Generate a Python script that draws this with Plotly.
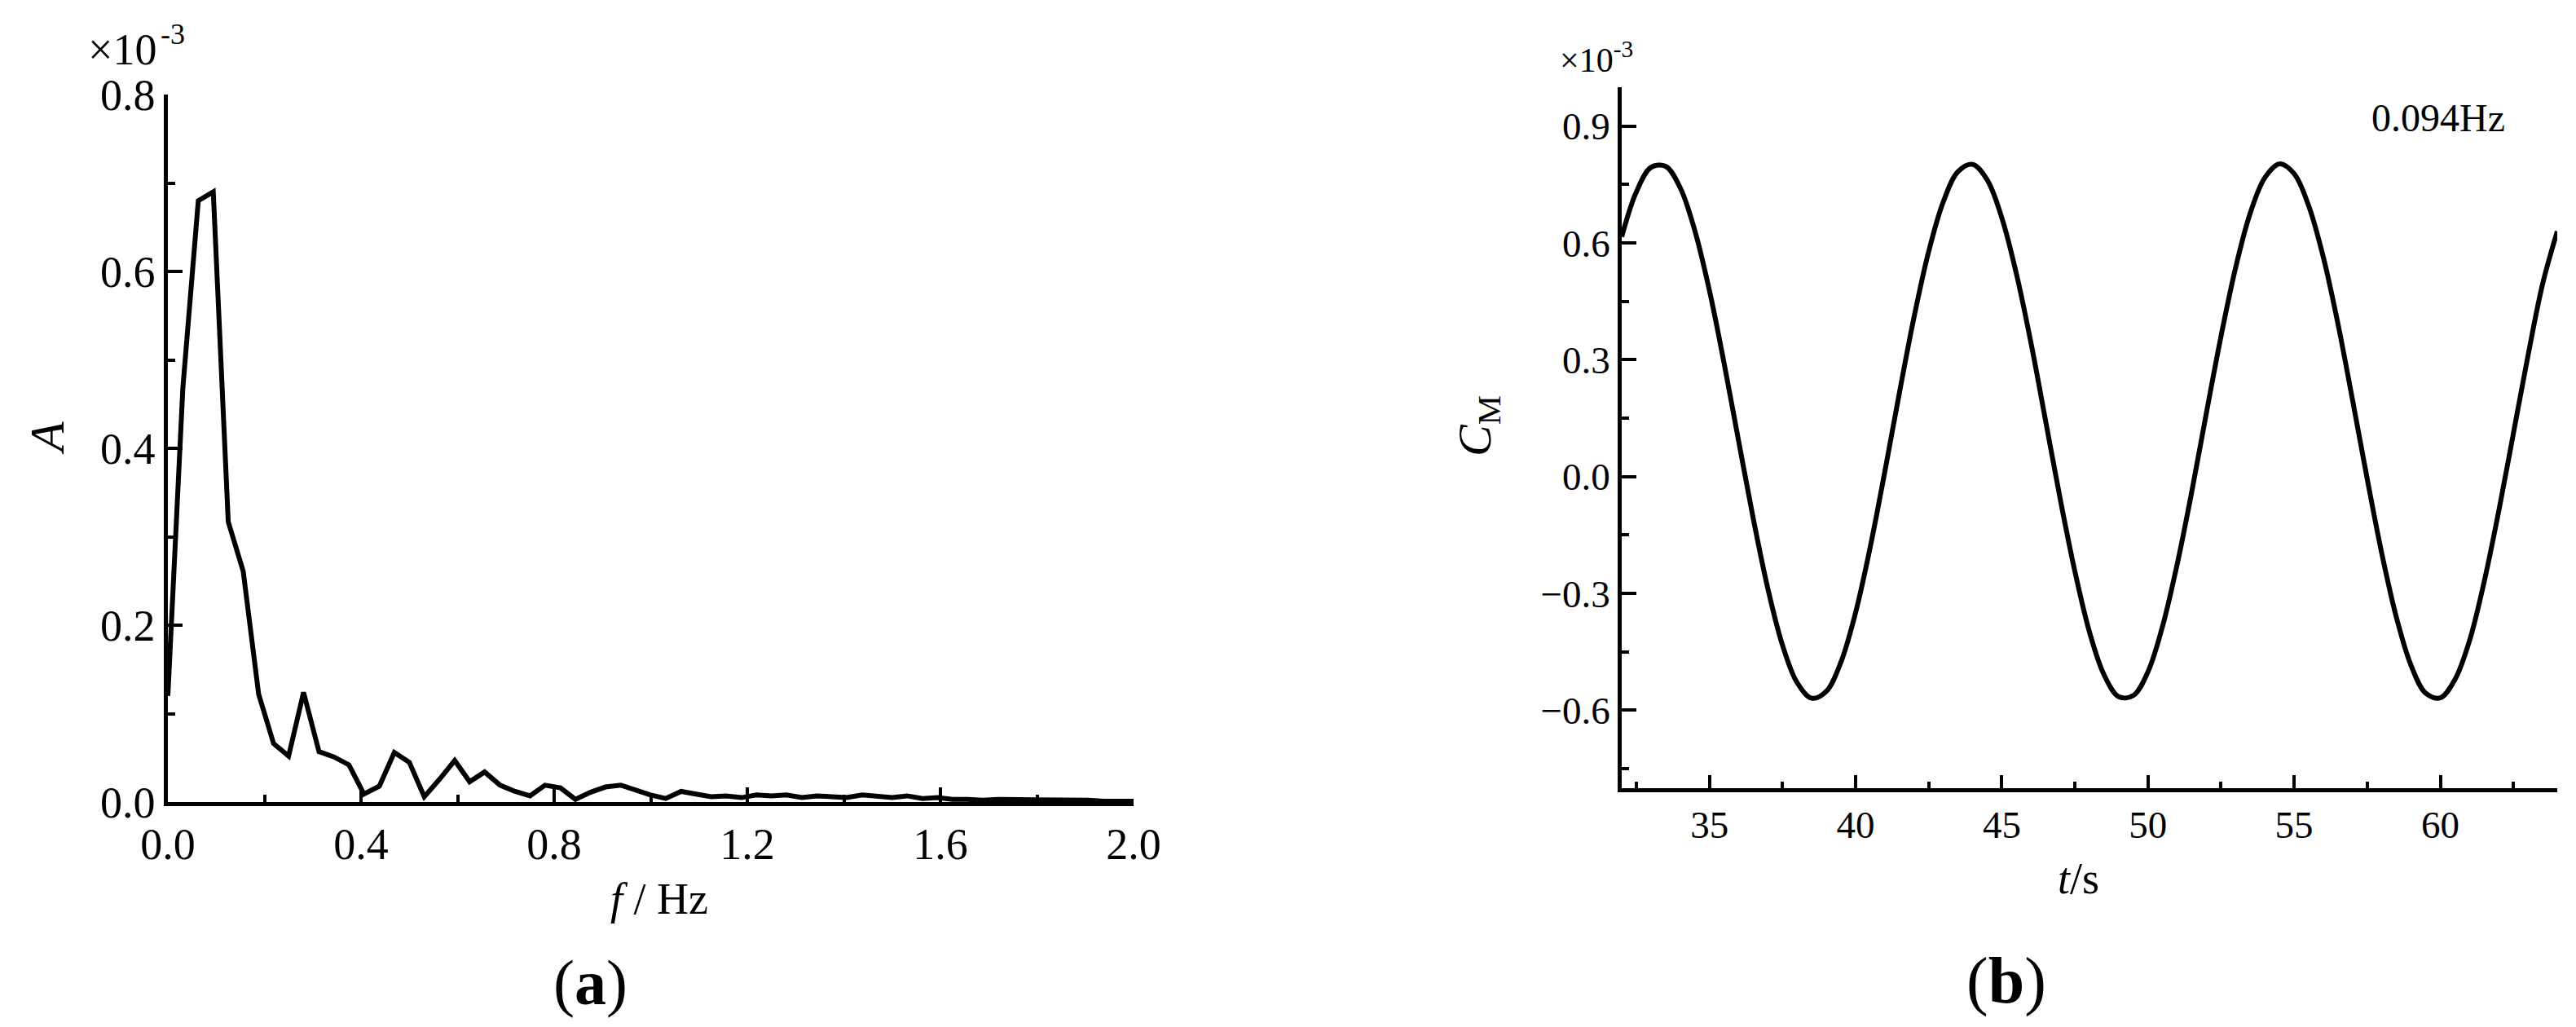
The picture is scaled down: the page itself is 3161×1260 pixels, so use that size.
import plotly.graph_objects as go

W, H = 3161, 1260
FONT = "Times New Roman, Liberation Serif, serif"

# (a) amplitude spectrum, f / Hz vs A (x1e-3)
freq_hz = [0.000, 0.031, 0.063, 0.094, 0.125, 0.156, 0.188, 0.219, 0.250, 0.281,
           0.313, 0.344, 0.375, 0.406, 0.438, 0.469, 0.500, 0.531, 0.563, 0.594,
           0.625, 0.656, 0.688, 0.719, 0.750, 0.781, 0.813, 0.844, 0.875, 0.906,
           0.938, 0.969, 1.000, 1.031, 1.063, 1.094, 1.125, 1.156, 1.188, 1.219,
           1.250, 1.281, 1.313, 1.344, 1.375, 1.406, 1.438, 1.469, 1.500, 1.531,
           1.563, 1.594, 1.625, 1.656, 1.688, 1.719, 1.750, 1.781, 1.813, 1.844,
           1.875, 1.906, 1.938, 1.969, 2.000]
amp = [0.120, 0.468, 0.680, 0.690, 0.317, 0.261, 0.122, 0.066, 0.052, 0.124,
       0.057, 0.051, 0.042, 0.009, 0.018, 0.056, 0.045, 0.006, 0.026, 0.047,
       0.023, 0.034, 0.019, 0.012, 0.007, 0.019, 0.016, 0.003, 0.011, 0.017,
       0.019, 0.013, 0.008, 0.004, 0.012, 0.009, 0.006, 0.007, 0.005, 0.008,
       0.007, 0.008, 0.005, 0.007, 0.006, 0.005, 0.008, 0.007, 0.005, 0.007,
       0.004, 0.005, 0.003, 0.003, 0.002, 0.003, 0.003, 0.002, 0.002, 0.002,
       0.002, 0.002, 0.001, 0.001, 0.001]

# (b) moment coefficient time history, t/s vs C_M (x1e-3)
time_s = [32.0, 32.5, 33.0, 33.5, 34.0, 34.5, 35.0, 35.5, 36.0, 36.5,
          37.0, 37.5, 38.0, 38.5, 39.0, 39.5, 40.0, 40.5, 41.0, 41.5,
          42.0, 42.5, 43.0, 43.5, 44.0, 44.5, 45.0, 45.5, 46.0, 46.5,
          47.0, 47.5, 48.0, 48.5, 49.0, 49.5, 50.0, 50.5, 51.0, 51.5,
          52.0, 52.5, 53.0, 53.5, 54.0, 54.5, 55.0, 55.5, 56.0, 56.5,
          57.0, 57.5, 58.0, 58.5, 59.0, 59.5, 60.0, 60.5, 61.0, 61.5,
          62.0, 62.5, 63.0, 63.5, 64.0]
cm = [0.616, 0.731, 0.794, 0.797, 0.742, 0.632, 0.478, 0.292, 0.091, -0.108,
      -0.288, -0.433, -0.529, -0.569, -0.551, -0.476, -0.349, -0.181, 0.013, 0.216,
      0.410, 0.578, 0.706, 0.783, 0.802, 0.762, 0.665, 0.521, 0.343, 0.143,
      -0.058, -0.243, -0.399, -0.509, -0.565, -0.562, -0.501, -0.384, -0.225, -0.038,
      0.164, 0.361, 0.537, 0.677, 0.768, 0.803, 0.778, 0.695, 0.563, 0.392,
      0.196, -0.006, -0.198, -0.362, -0.485, -0.556, -0.568, -0.521, -0.421, -0.270,
      -0.088, 0.111, 0.311, 0.495, 0.630]


def px(x):
    return x / W


def py(y):
    return 1 - y / H


fig = go.Figure()
fig.add_trace(go.Scatter(x=freq_hz, y=amp, mode="lines",
                         line=dict(color="black", width=6), xaxis="x", yaxis="y"))
fig.add_trace(go.Scatter(x=time_s, y=cm, mode="lines",
                         line=dict(color="black", width=6, shape="spline"),
                         xaxis="x2", yaxis="y2"))

axis_common = dict(showline=True, linecolor="black", linewidth=4.5, mirror=False,
                   showgrid=False, zeroline=False, ticks="inside", tickcolor="black",
                   tickwidth=4, ticklen=18, tickformat=".1f", automargin=False,
                   minor=dict(ticks="inside", ticklen=9, tickwidth=4, tickcolor="black"))

fig.update_layout(
    template="none",
    width=W, height=H, showlegend=False,
    paper_bgcolor="white", plot_bgcolor="white",
    margin=dict(l=0, r=0, t=0, b=0, pad=0, autoexpand=False),
    font=dict(family=FONT, color="black"),
    xaxis=dict(axis_common, domain=[px(198), px(1383)], range=[0, 2.0],
               dtick=0.4, tick0=0, tickfont=dict(size=54), anchor="y",
               minor=dict(axis_common["minor"], dtick=0.2, tick0=0)),
    yaxis=dict(axis_common, domain=[py(976), py(108)], range=[0, 0.8],
               dtick=0.2, tick0=0, tickfont=dict(size=54), anchor="x",
               minor=dict(axis_common["minor"], dtick=0.1, tick0=0)),
    xaxis2=dict(axis_common, domain=[px(1982), px(3130)], range=[32, 64],
                dtick=5, tick0=35, tickformat="d", tickfont=dict(size=47), anchor="y2",
                ticklen=16, minor=dict(axis_common["minor"], dtick=2.5, tick0=35, ticklen=8)),
    yaxis2=dict(axis_common, domain=[py(959), py(99)], range=[-0.8, 1.0],
                dtick=0.3, tick0=0, tickfont=dict(size=47), anchor="x2",
                minor=dict(axis_common["minor"], dtick=0.15, tick0=0)),
)

annotations = [
    # panel (a): scale factor written as base + exponent
    dict(x=px(186), y=py(53), text="×10", xanchor="right", font=dict(size=54)),
    dict(x=px(187), y=py(34), text="-3", xanchor="left", font=dict(size=36)),
    dict(x=px(50), y=py(530), text="<i>A</i>", textangle=-90, font=dict(size=60)),
    dict(x=px(801), y=py(1095), text="<i>f</i> / Hz", font=dict(size=54)),
    dict(x=px(716), y=py(1197), text="(<b>a</b>)", font=dict(size=78)),
    # panel (b)
    dict(x=px(1904), y=py(62), text="×10<sup>-3</sup>", xanchor="left",
         font=dict(size=42)),
    dict(x=px(1805), y=py(515), text="<i>C</i><sub>M</sub>", textangle=-90,
         font=dict(size=58)),
    dict(x=px(2984), y=py(136), text="0.094Hz", font=dict(size=48)),
    dict(x=px(2542), y=py(1070), text="<i>t</i>/s", font=dict(size=54)),
    dict(x=px(2454), y=py(1195), text="(<b>b</b>)", font=dict(size=80)),
]
for a in annotations:
    a.setdefault("xanchor", "center")
    a.setdefault("yanchor", "middle")
    a.update(xref="paper", yref="paper", showarrow=False)
fig.update_layout(annotations=annotations)

fig.write_html("out.html")
